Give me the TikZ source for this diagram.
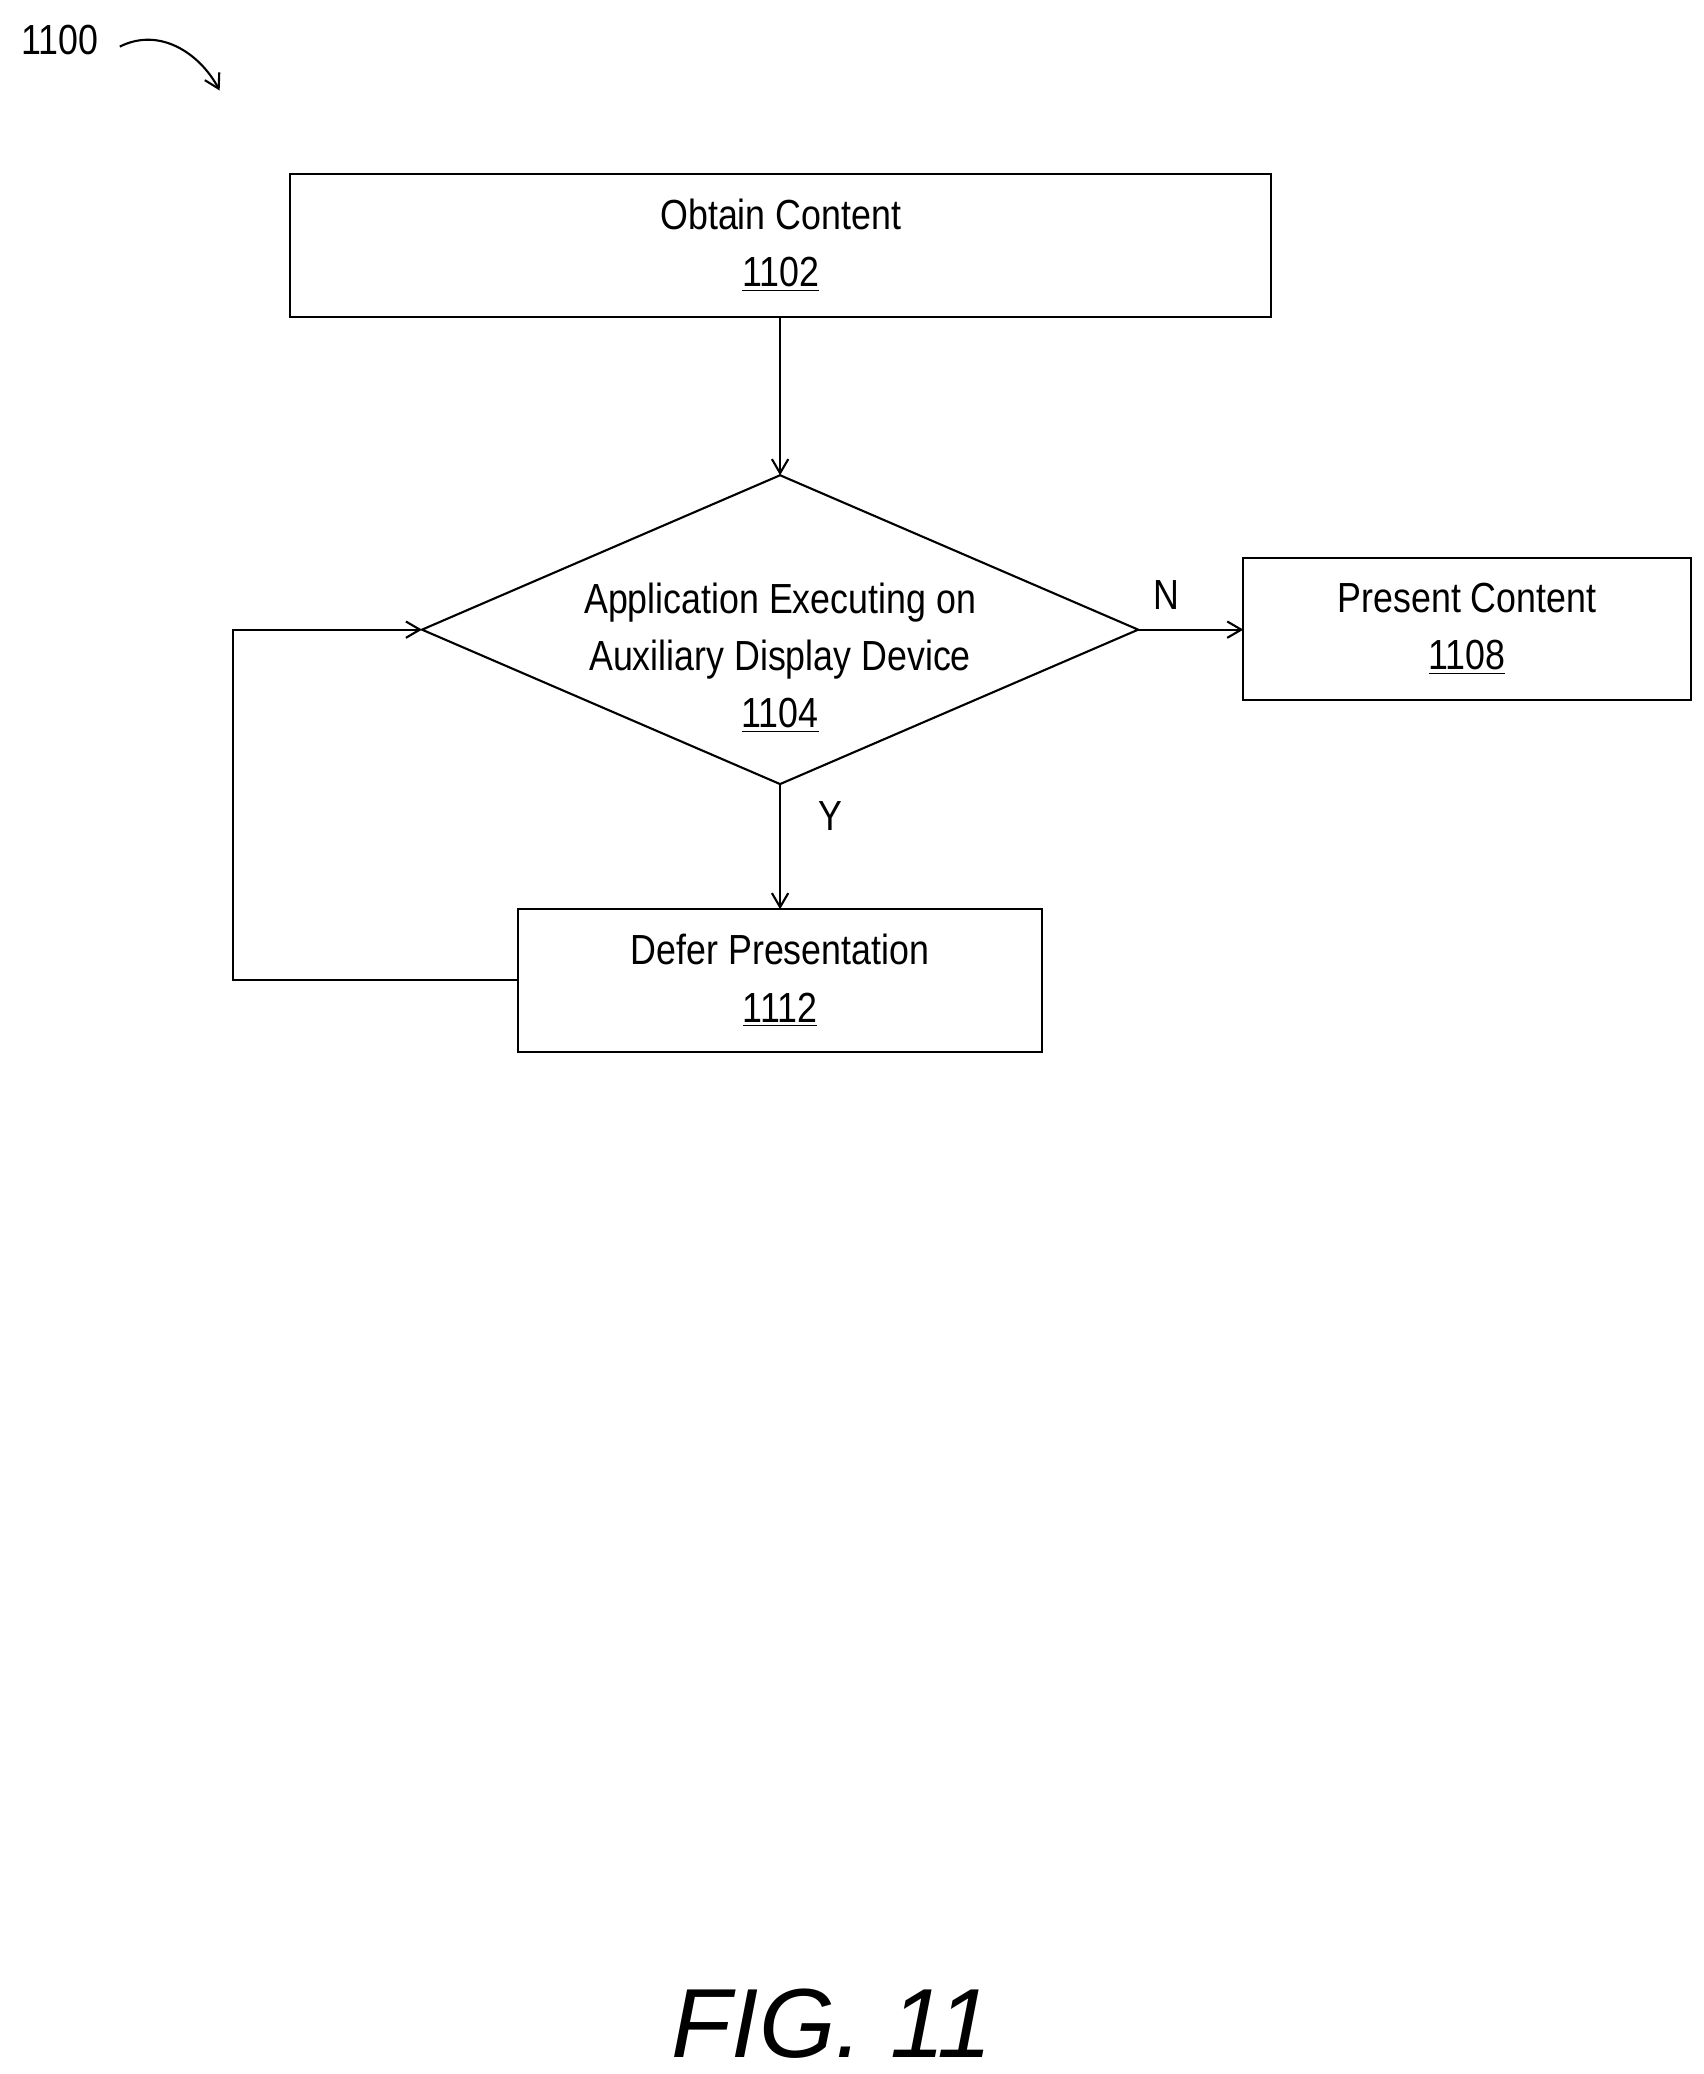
\documentclass[tikz,border=0pt]{standalone}
\usepackage{fontspec}
\setmainfont{Liberation Sans}[FakeStretch=0.85]
\newfontfamily\figfont{Liberation Sans}
\usetikzlibrary{arrows.meta,shapes.geometric}
\begin{document}
\begin{tikzpicture}[x=0.02cm,y=-0.02cm,
  lbl/.style={font=\fontsize{18}{24.5}\selectfont},
  arr/.style={line width=0.9pt,-{Straight Barb[length=6pt,width=7pt]}}]
\useasboundingbox (0,0) rectangle (1280,1558);
\draw[line width=0.9pt] (218,131) rectangle (955,238);
\node[lbl,align=center] (a) at (586.5,184.5) {Obtain Content\\\underline{1102}};
\coordinate (ab) at (586,238);
\draw[line width=0.9pt] (586,357) -- (855,473) -- (586,589) -- (317,473) -- cycle;
\coordinate (dt) at (586,357); \coordinate (dr) at (855,473);
\coordinate (db) at (586,589); \coordinate (dl) at (317,473);
\node[lbl,align=center] (d) at (586,494) {Application Executing on\\Auxiliary Display Device\\\underline{1104}};
\draw[line width=0.9pt] (934,419) rectangle (1270,526);
\node[lbl,align=center] (p) at (1102,472.5) {Present Content\\\underline{1108}};
\coordinate (pl) at (934,473);
\draw[line width=0.9pt] (389,683) rectangle (783,790);
\node[lbl,align=center] (f) at (586,736.5) {Defer Presentation\\\underline{1112}};
\coordinate (ft) at (586,683); \coordinate (fl) at (389,736);
\draw[arr] (ab) -- (dt);
\draw[arr] (dr) -- (pl);
\draw[arr] (db) -- (ft);
\draw[arr] (fl) -- (175,736) -- (175,473) -- (dl);
\node[lbl] (n) at (876,447) {N};
\node[lbl] (y) at (624,613) {Y};
\node[lbl] (r) at (45,30) {1100};
\coordinate (r1) at (90,35); \coordinate (r2) at (165,68);
\draw[arr] (r1) .. controls (120,20) and (150,40) .. (r2);
\node[font=\figfont\itshape\fontsize{42}{48}\selectfont] (fig) at (625,1520) {FIG. 11};
\end{tikzpicture}
\end{document}
